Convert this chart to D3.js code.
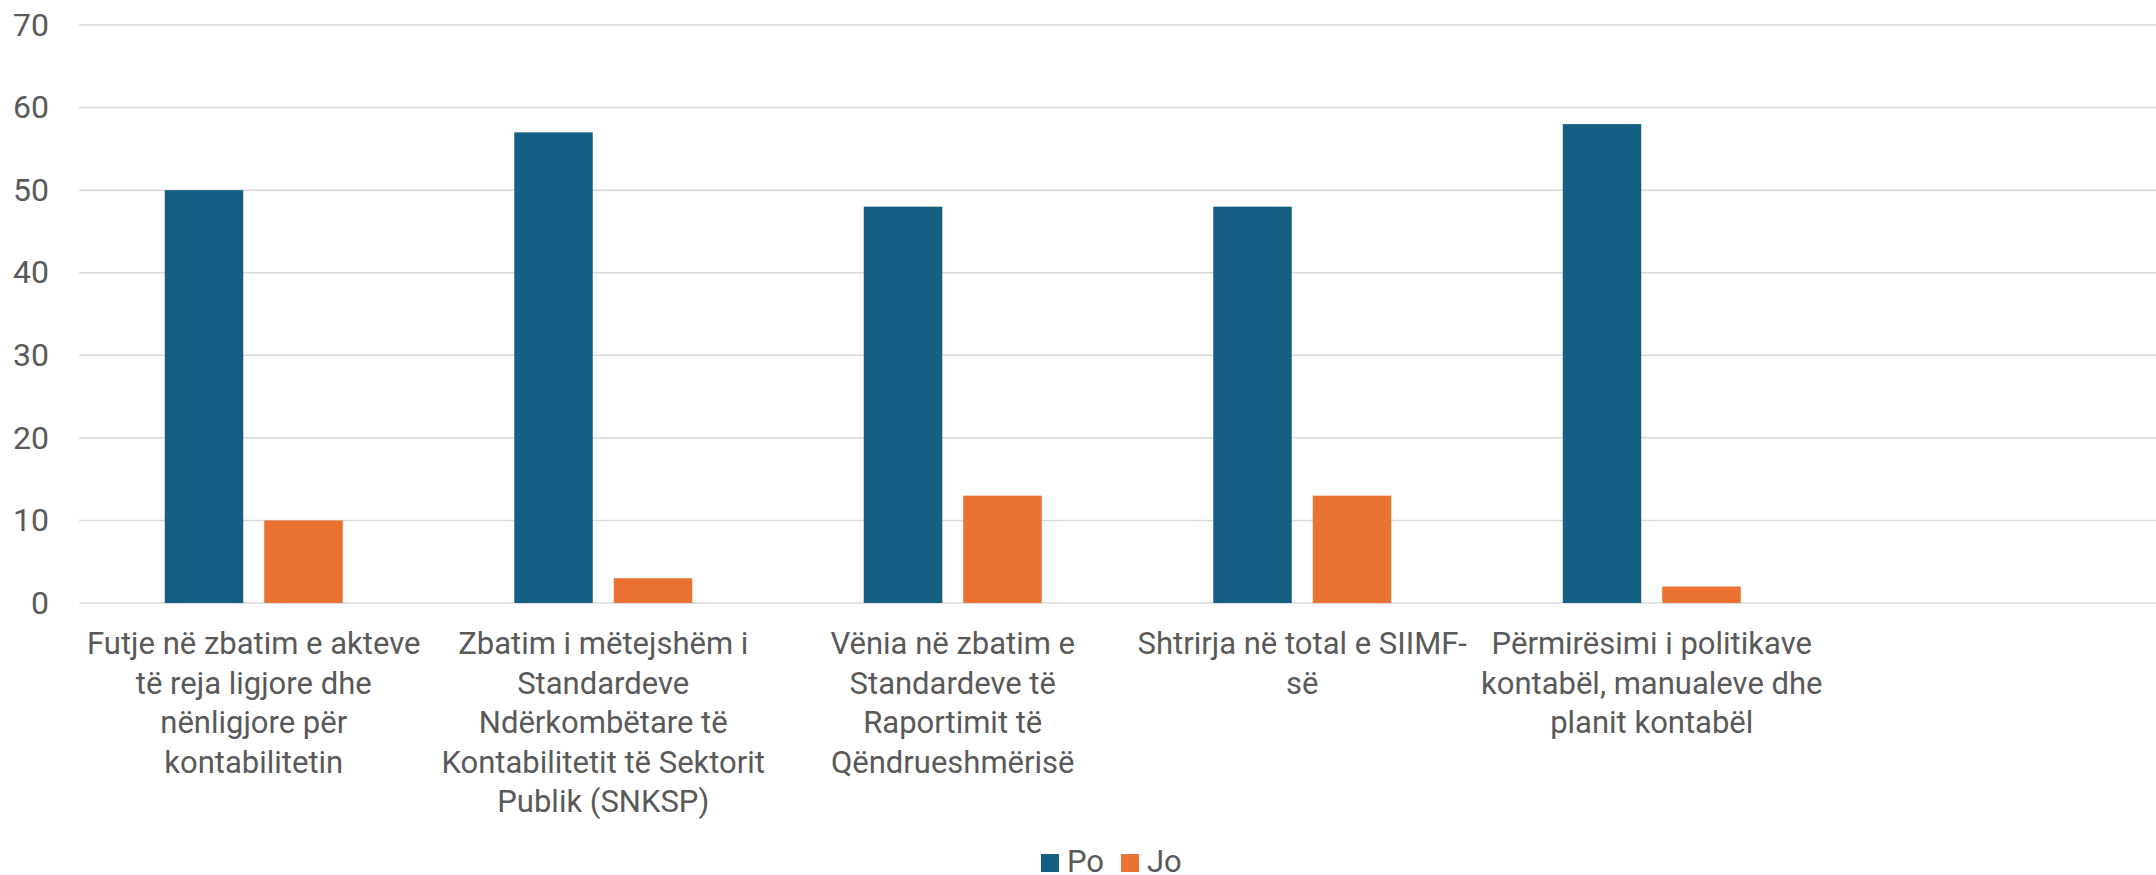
<!DOCTYPE html>
<html>
  <head>
    <meta charset="utf-8" />
    <script src="https://cdn.jsdelivr.net/npm/d3@7/dist/d3.min.js"></script>
    <style>
      body {
        margin: 0;
        background: white;
      }
      svg text {
        font-family: Roboto, "Open Sans", sans-serif;
        fill: #595959;
      }
    </style>
  </head>
  <body>
    <svg id="chart"></svg>
    <script>
      // categories, wrapped the way the original chart wraps them
      const categories = [
        "Futje në zbatim e akteve\ntë reja ligjore dhe\nnënligjore për\nkontabilitetin",
        "Zbatim i mëtejshëm i\nStandardeve\nNdërkombëtare të\nKontabilitetit të Sektorit\nPublik (SNKSP)",
        "Vënia në zbatim e\nStandardeve të\nRaportimit të\nQëndrueshmërisë",
        "Shtrirja në total e SIIMF-\nsë",
        "Përmirësimi i politikave\nkontabël, manualeve dhe\nplanit kontabël"
      ];
      const seriesNames = ["Po", "Jo"];
      const poValues = [50, 57, 48, 48, 58];
      const joValues = [10, 3, 13, 13, 2];
      const yTicks = [0, 10, 20, 30, 40, 50, 60, 70];
      const colors = ["#156082", "#E97132"];

      const width = 2156,
        height = 875;

      const plotLeft = 79,
        plotRight = width,
        plotTop = 25,
        plotBottom = 603,
        step = 349.5;

      const svg = d3
        .select("#chart")
        .attr("width", width)
        .attr("height", height);

      const rows = categories.map((c, i) => ({
        key: c,
        values: [
          { series: "Po", value: poValues[i] },
          { series: "Jo", value: joValues[i] }
        ]
      }));

      const y = d3
        .scaleLinear()
        .domain([0, 70])
        .range([plotBottom, plotTop]);

      const x0 = d3
        .scaleBand()
        .domain(categories)
        .range([plotLeft, plotLeft + step * categories.length]);

      const x1 = d3
        .scaleBand()
        .domain(seriesNames)
        .range([0, x0.bandwidth()])
        .paddingInner(0.211)
        .paddingOuter(0.862);

      const color = d3.scaleOrdinal().domain(seriesNames).range(colors);

      // gridlines
      svg
        .append("g")
        .selectAll("line")
        .data(yTicks)
        .join("line")
        .attr("x1", plotLeft)
        .attr("x2", plotRight)
        .attr("y1", d => y(d))
        .attr("y2", d => y(d))
        .style("stroke", "#d9d9d9")
        .style("stroke-width", 1.5);

      // y axis labels
      const yAxis = d3
        .axisLeft(y)
        .tickValues(yTicks)
        .tickSize(0)
        .tickPadding(0);

      svg
        .append("g")
        .attr("transform", "translate(49,0)")
        .call(yAxis)
        .call(g => g.select(".domain").remove())
        .selectAll("text")
        .style("font-size", "32px")
        .attr("fill", "#595959");

      // bars
      svg
        .append("g")
        .selectAll("g")
        .data(rows)
        .join("g")
        .attr("transform", d => `translate(${x0(d.key)},0)`)
        .selectAll("rect")
        .data(d => d.values)
        .join("rect")
        .attr("x", d => x1(d.series))
        .attr("width", x1.bandwidth())
        .attr("y", d => y(d.value))
        .attr("height", d => y(0) - y(d.value))
        .style("fill", d => color(d.series));

      // category labels
      const labels = svg
        .append("g")
        .selectAll("text")
        .data(categories)
        .join("text")
        .attr("x", d => x0(d) + x0.bandwidth() / 2)
        .attr("y", 654)
        .attr("text-anchor", "middle")
        .style("font-size", "31px");

      labels
        .selectAll("tspan")
        .data(d => d.split("\n"))
        .join("tspan")
        .attr("x", function() {
          return this.parentNode.getAttribute("x");
        })
        .attr("dy", (d, i) => (i === 0 ? 0 : 39.5))
        .text(d => d);

      // legend
      const legend = svg
        .append("g")
        .attr("transform", "translate(1041,854)");

      const legendX = d3
        .scaleOrdinal()
        .domain(seriesNames)
        .range([0, 80]);

      const item = legend
        .selectAll("g")
        .data(seriesNames)
        .join("g")
        .attr("transform", d => `translate(${legendX(d)},0)`);

      item
        .append("rect")
        .attr("width", 18)
        .attr("height", 18)
        .style("fill", d => color(d));

      item
        .append("text")
        .attr("x", 26)
        .attr("y", 18)
        .style("font-size", "31px")
        .text(d => d);
    </script>
  </body>
</html>
